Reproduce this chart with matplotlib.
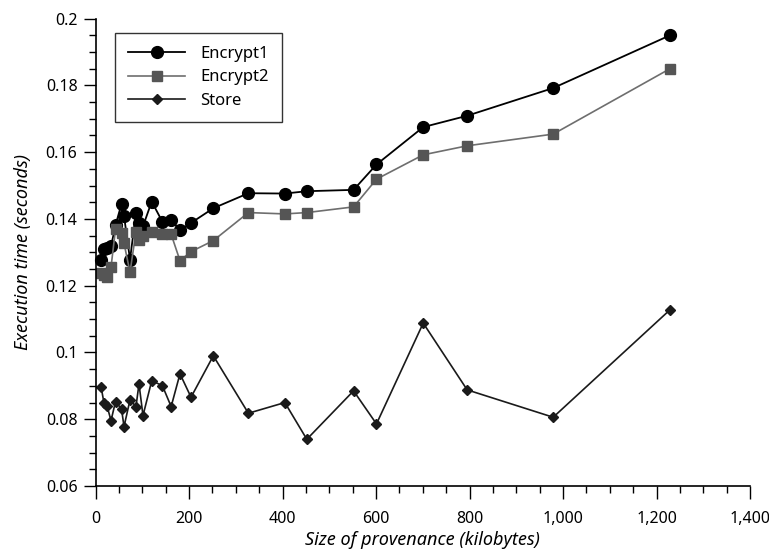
import matplotlib
matplotlib.use("Agg")
import matplotlib.pyplot as plt
from matplotlib.ticker import MultipleLocator, FuncFormatter

plt.rcParams['font.family'] = ['Noto Sans', 'DejaVu Sans']

# provenance size (KB) and execution times (s)
size_kb = [11.8, 18.2, 24.6, 33.2, 42.8, 55.6, 61, 73.8, 86.6, 93, 101.6, 120.2,
           142.9, 161.8, 180.7, 204.3, 252, 327, 405, 452, 552, 601, 701, 795,
           979, 1229]
encrypt1 = [0.1277, 0.1310, 0.1314, 0.1318, 0.1381, 0.1445, 0.1409, 0.1278,
            0.1419, 0.1388, 0.1378, 0.1452, 0.1392, 0.1397, 0.1366, 0.1388,
            0.1432, 0.1477, 0.1476, 0.1483, 0.1487, 0.1563, 0.1675, 0.1709,
            0.1792, 0.1950]
encrypt2 = [0.1238, 0.1232, 0.1226, 0.1256, 0.1369, 0.1357, 0.1327, 0.1240,
            0.1362, 0.1337, 0.1349, 0.1360, 0.1354, 0.1354, 0.1275, 0.1302,
            0.1335, 0.1419, 0.1415, 0.1419, 0.1436, 0.1519, 0.1592, 0.1619,
            0.1654, 0.1850]
store = [0.0898, 0.0848, 0.0840, 0.0796, 0.0853, 0.0831, 0.0778, 0.0858,
         0.0838, 0.0906, 0.0811, 0.0915, 0.0901, 0.0838, 0.0936, 0.0866,
         0.0990, 0.0818, 0.0850, 0.0740, 0.0885, 0.0786, 0.1088, 0.0888,
         0.0806, 0.1128]

fig = plt.figure(figsize=(7.69, 5.6), dpi=100)
ax = fig.add_axes([0.1242, 0.1321, 0.8511, 0.8347])

ax.plot(size_kb, encrypt1, color='black', lw=1.3, marker='o', ms=8.5,
        mfc='black', mec='black', label='Encrypt1', clip_on=False)
ax.plot(size_kb, encrypt2, color='#6e6e6e', lw=1.2, marker='s', ms=7.5,
        mfc='#555555', mec='#555555', label='Encrypt2', clip_on=False)
ax.plot(size_kb, store, color='#1a1a1a', lw=1.2, marker='D', ms=5.5,
        mfc='#1a1a1a', mec='#1a1a1a', label='Store', clip_on=False)

ax.set_xlim(0, 1400)
ax.set_ylim(0.06, 0.2)
ax.xaxis.set_major_locator(MultipleLocator(200))
ax.xaxis.set_minor_locator(MultipleLocator(50))
ax.yaxis.set_major_locator(MultipleLocator(0.02))
ax.yaxis.set_minor_locator(MultipleLocator(0.005))
ax.xaxis.set_major_formatter(FuncFormatter(lambda v, p: f"{v:,.0f}"))
ax.yaxis.set_major_formatter(FuncFormatter(lambda v, p: f"{v:g}"))

for s in ['top', 'right']:
    ax.spines[s].set_visible(False)
for s in ['left', 'bottom']:
    ax.spines[s].set_linewidth(1.2)
ax.tick_params(which='major', direction='out', length=9, width=1.0,
               labelsize=11.5, pad=4)
ax.tick_params(axis='x', which='major', pad=9)
ax.tick_params(which='minor', direction='out', length=5, width=1.0)

ax.set_xlabel('Size of provenance (kilobytes)', fontsize=13, style='italic',
              labelpad=3)
ax.set_ylabel('Execution time (seconds)', fontsize=13, style='italic',
              labelpad=10)

leg = ax.legend(loc='upper left', bbox_to_anchor=(0.03, 0.97), fontsize=12,
                frameon=True, fancybox=False, handlelength=3.4,
                borderpad=0.8, labelspacing=0.45, handletextpad=0.9,
                borderaxespad=0.0)
leg.get_frame().set_edgecolor('black')
leg.get_frame().set_linewidth(1.0)

fig.savefig('out.png', dpi=100)
